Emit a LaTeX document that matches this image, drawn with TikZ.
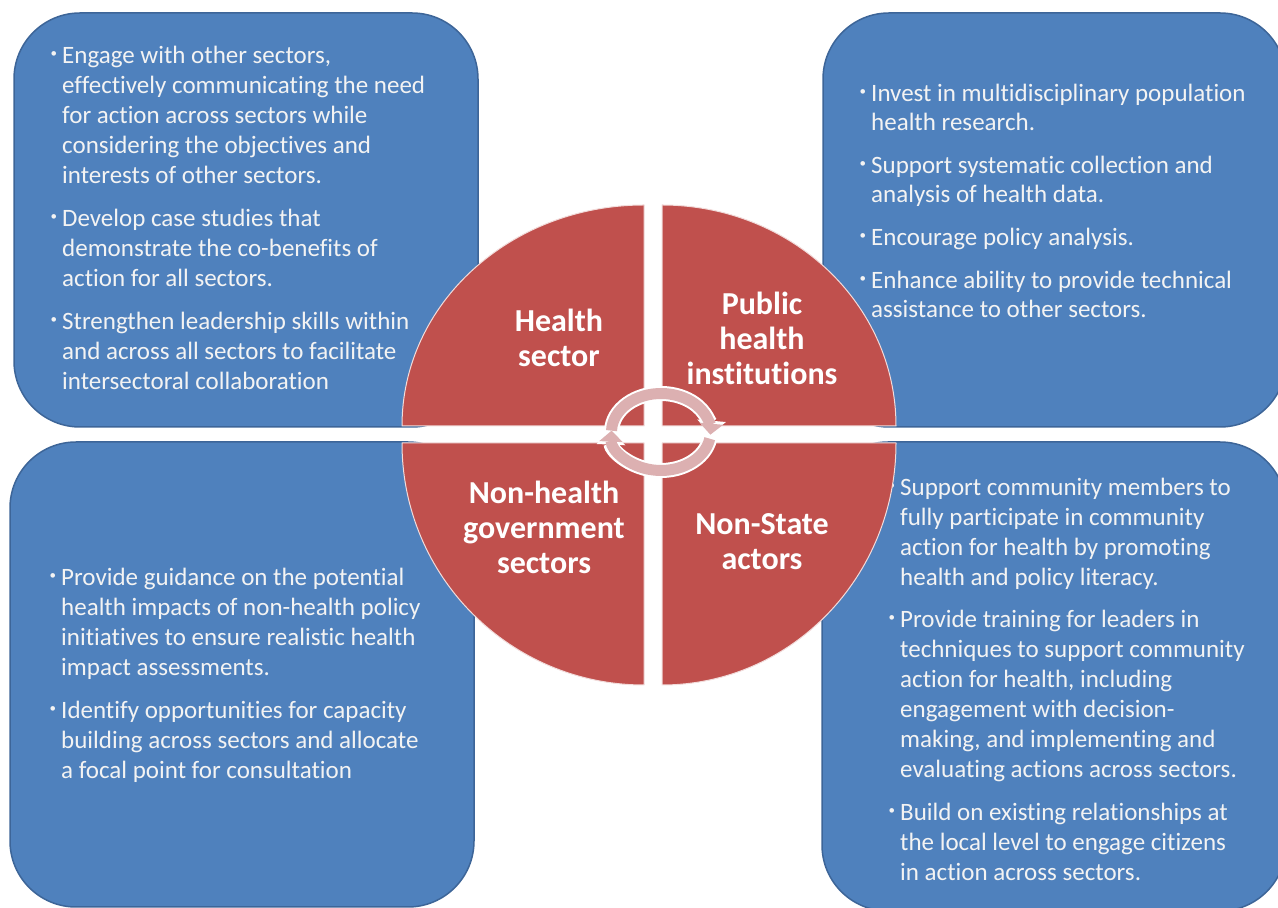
\documentclass[tikz,border=0pt]{standalone}
\usepackage{fontspec}
\setmainfont{Carlito}[Ligatures=NoCommon]
\usetikzlibrary{arrows.meta}
\definecolor{boxblue}{HTML}{4F81BD}
\definecolor{boxedge}{HTML}{3D6598}
\definecolor{sectorred}{HTML}{C0504D}
\definecolor{ringpink}{HTML}{DCB0B1}
\definecolor{notetext}{HTML}{F3F3F3}
\newcommand\bul{\llap{\raisebox{6pt}{\fontsize{13}{13}\selectfont\textbullet}\hspace{5pt}}}
\begin{document}
\begin{tikzpicture}[x=1pt, y=1pt, line join=round, >=Stealth,
	notebox/.style={draw=boxedge, line width=1.5pt, fill=boxblue, rounded corners=66pt},
	note/.style={align=left, text=notetext, inner sep=0pt, anchor=base west, font=\fontsize{25}{30}\selectfont},
	sector/.style={fill=sectorred, draw=white!80!sectorred, line width=1pt},
	sectorlabel/.style={align=center, text=white, inner sep=0pt, anchor=base, font=\bfseries\fontsize{32}{35}\selectfont},
	ringback/.style={white, line width=15pt, -{Triangle[width=28pt,length=14pt]}},
	ringfront/.style={ringpink, line width=11pt, -{Triangle[width=23pt,length=11pt]}}]
	\useasboundingbox (0,0) rectangle (1278,908);
	% the four boxes
	\draw[notebox] (14,481) rectangle (478,895);
	\draw[notebox] (823,481) rectangle (1286,895);
	\draw[notebox] (10,1) rectangle (474,466);
	\draw[notebox] (822,-3) rectangle (1286,466);
	% notes (placed at the baseline of their last line)
	\node[note] (healthnote) at (62,518) {\bul Engage with other sectors,\\
		effectively communicating the need\\
		for action across sectors while\\
		considering the objectives and\\
		interests of other sectors.\\[13pt]
		\bul Develop case studies that\\
		demonstrate the co-benefits of\\
		action for all sectors.\\[13pt]
		\bul Strengthen leadership skills within\\
		and across all sectors to facilitate\\
		intersectoral collaboration};
	\node[note, font=\fontsize{25}{29}\selectfont] (publicnote) at (871,590) {\bul Invest in multidisciplinary population\\
		health research.\\[14pt]
		\bul Support systematic collection and\\
		analysis of health data.\\[14pt]
		\bul Encourage policy analysis.\\[14pt]
		\bul Enhance ability to provide technical\\
		assistance to other sectors.};
	\node[note] (govnote) at (61,129) {\bul Provide guidance on the potential\\
		health impacts of non-health policy\\
		initiatives to ensure realistic health\\
		impact assessments.\\[13pt]
		\bul Identify opportunities for capacity\\
		building across sectors and allocate\\
		a focal point for consultation};
	\node[note] (statenote) at (900,27) {\bul Support community members to\\
		fully participate in community\\
		action for health by promoting\\
		health and policy literacy.\\[13pt]
		\bul Provide training for leaders in\\
		techniques to support community\\
		action for health, including\\
		engagement with decision-\\
		making, and implementing and\\
		evaluating actions across sectors.\\[13pt]
		\bul Build on existing relationships at\\
		the local level to engage citizens\\
		in action across sectors.};
	% the four quarters
	\draw[sector] (644,482) -- (402,482) arc[start angle=180, end angle=90, x radius=242, y radius=221] -- cycle;
	\draw[sector] (662,482) -- (662,703) arc[start angle=90, end angle=0, x radius=234, y radius=221] -- cycle;
	\draw[sector] (644,465) -- (644,223) arc[start angle=270, end angle=180, x radius=242, y radius=242] -- cycle;
	\draw[sector] (662,465) -- (896,465) arc[start angle=0, end angle=-90, x radius=234, y radius=242] -- cycle;
	\node[sectorlabel] (health) at (559,541) {Health\\sector};
	\node[sectorlabel] (public) at (762,523) {Public\\health\\institutions};
	\node[sectorlabel] (gov) at (544,334) {Non-health\\government\\sectors};
	\node[sectorlabel] (state) at (762,338) {Non-State\\actors};
	% cycle arrows
	\coordinate (ring) at (661,476);
	\draw[ringback] (ring) ++(178:49.5 and 38.5) arc[start angle=178, end angle=-4, x radius=49.5, y radius=38.5];
	\draw[ringfront] (ring) ++(178:49.5 and 38.5) arc[start angle=178, end angle=-4, x radius=49.5, y radius=38.5];
	\draw[ringback] (ring) ++(-10:49.5 and 38.5) arc[start angle=-10, end angle=-182, x radius=49.5, y radius=38.5];
	\draw[ringfront] (ring) ++(-10:49.5 and 38.5) arc[start angle=-10, end angle=-182, x radius=49.5, y radius=38.5];
\end{tikzpicture}
\end{document}
